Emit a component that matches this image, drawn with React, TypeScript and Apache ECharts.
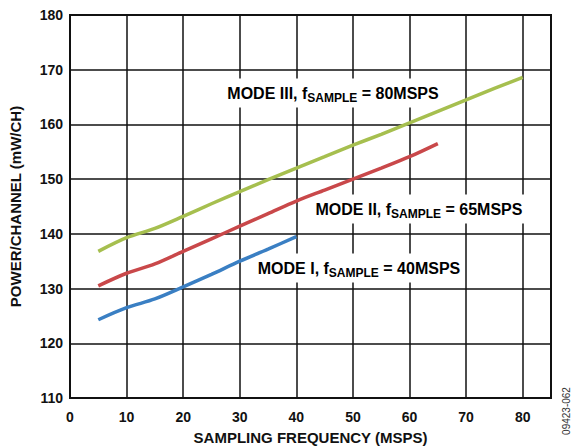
import React, { useEffect, useRef } from "react";
import * as echarts from "echarts";

const freqMode1 = [5, 10, 15, 20, 25, 30, 35, 40];
const powerMode1 = [124.3, 126.5, 128.1, 130.3, 132.6, 135.0, 137.2, 139.5];

const freqMode2 = [5, 10, 15, 20, 25, 30, 35, 40, 45, 50, 55, 60, 65];
const powerMode2 = [130.5, 132.8, 134.5, 136.8, 139.1, 141.4, 143.7, 146.0, 148.0, 150.0, 152.0, 154.1, 156.5];

const freqMode3 = [5, 10, 15, 20, 25, 30, 35, 40, 45, 50, 55, 60, 65, 70, 75, 80];
const powerMode3 = [136.8, 139.3, 141.0, 143.2, 145.5, 147.7, 149.9, 152.0, 154.1, 156.2, 158.2, 160.3, 162.4, 164.5, 166.6, 168.6];

const labelMode1 = ["MODE I, f", "SAMPLE", " = 40MSPS"];
const labelMode2 = ["MODE II, f", "SAMPLE", " = 65MSPS"];
const labelMode3 = ["MODE III, f", "SAMPLE", " = 80MSPS"];

const FONT = "'Liberation Sans', Arial, sans-serif";

function zip(xs: number[], ys: number[]) {
  return xs.map((x, i) => [x, ys[i]]);
}

function richLabel(parts: string[], x: number, y: number) {
  return {
    type: "text",
    x,
    y,
    z: 1,
    style: {
      text: `{a|${parts[0]}}{s|${parts[1]}}{a|${parts[2]}}`,
      align: "center",
      verticalAlign: "middle",
      backgroundColor: "#fff",
      padding: [5, 4, 4, 4],
      rich: {
        a: {
          fontFamily: FONT,
          fontWeight: "bold",
          fontSize: 16,
          color: "#111",
          lineHeight: 20,
          verticalAlign: "middle",
        },
        s: {
          fontFamily: FONT,
          fontWeight: "bold",
          fontSize: 12,
          color: "#111",
          lineHeight: 20,
          padding: [10, 0, 0, 0],
          verticalAlign: "bottom",
        },
      },
    },
  };
}

export default function App() {
  const ref = useRef<HTMLDivElement>(null);
  useEffect(() => {
    document.body.style.margin = "0";
    const chart = echarts.init(ref.current!, null, { renderer: "svg" });
    chart.setOption({
      animation: false,
      backgroundColor: "#fff",
      grid: {
        left: 70,
        right: 23,
        top: 15,
        bottom: 49,
        containLabel: false,
        outerBoundsMode: "none",
        show: true,
        borderColor: "#111",
        borderWidth: 2,
        z: 5,
      },
      xAxis: {
        type: "value",
        min: 0,
        max: 85,
        interval: 10,
        name: "SAMPLING FREQUENCY (MSPS)",
        nameLocation: "middle",
        nameGap: 32,
        nameTextStyle: { fontFamily: FONT, fontWeight: "bold", fontSize: 15, color: "#111" },
        axisLine: { show: true, lineStyle: { color: "#111", width: 2 } },
        axisTick: { show: false },
        axisLabel: {
          fontFamily: FONT,
          fontWeight: "bold",
          fontSize: 14,
          color: "#111",
          margin: 12,
          showMaxLabel: false,
        },
        splitLine: { show: true, lineStyle: { color: "#111", width: 1.5 } },
      },
      yAxis: {
        type: "value",
        min: 110,
        max: 180,
        interval: 10,
        name: "POWER/CHANNEL (mW/CH)",
        nameLocation: "middle",
        nameGap: 47,
        nameTextStyle: { fontFamily: FONT, fontWeight: "bold", fontSize: 15, color: "#111" },
        axisLine: { show: true, lineStyle: { color: "#111", width: 2 } },
        axisTick: { show: false },
        axisLabel: {
          fontFamily: FONT,
          fontWeight: "bold",
          fontSize: 14,
          color: "#111",
          margin: 7,
        },
        splitLine: { show: true, lineStyle: { color: "#111", width: 1.5 } },
      },
      series: [
        {
          type: "line",
          data: zip(freqMode1, powerMode1),
          showSymbol: false,
          smooth: 0.3,
          lineStyle: { color: "#3a7fc3", width: 3.5 },
          z: 3,
        },
        {
          type: "line",
          data: zip(freqMode2, powerMode2),
          showSymbol: false,
          smooth: 0.3,
          lineStyle: { color: "#c9484a", width: 3.5 },
          z: 3,
        },
        {
          type: "line",
          data: zip(freqMode3, powerMode3),
          showSymbol: false,
          smooth: 0.3,
          lineStyle: { color: "#a6bf4f", width: 3.5 },
          z: 3,
        },
      ],
      graphic: [
        richLabel(labelMode3, 333, 93),
        richLabel(labelMode2, 419, 209),
        richLabel(labelMode1, 359, 268),
        {
          type: "text",
          x: 566,
          y: 411,
          rotation: Math.PI / 2,
          style: {
            text: "09423-062",
            fontFamily: FONT,
            fontSize: 10,
            fill: "#333",
            align: "center",
            verticalAlign: "middle",
          },
        },
      ],
    });
    return () => chart.dispose();
  }, []);
  return <div ref={ref} style={{ width: 574, height: 447 }} />;
}
